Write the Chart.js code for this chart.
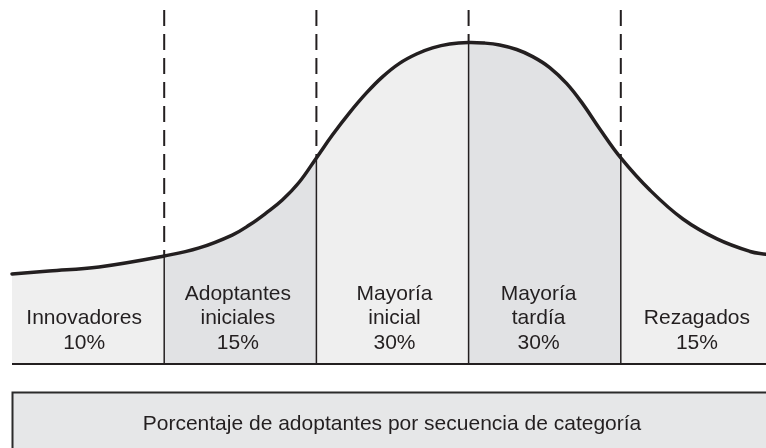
<!DOCTYPE html>
<html>
<head>
<meta charset="utf-8">
<script src="https://cdn.jsdelivr.net/npm/chart.js@4"></script>
<style>
  html, body { margin: 0; padding: 0; background: #ffffff; }
  #wrap { width: 766px; height: 448px; position: relative; }
</style>
</head>
<body>
<div id="wrap"><canvas id="c"></canvas></div>
<script>
// Curve (x in standard deviations from the mean, y = density as % of peak)
const curveX = [-3.0, -2.757, -2.428, -2.0, -1.77, -1.553, -1.441, -1.329, -1.224, -1.112, -1.0, -0.895, -0.783, -0.671, -0.566, -0.454, -0.342, -0.237, -0.125, 0, 0.105, 0.204, 0.316, 0.421, 0.533, 0.645, 0.75, 0.862, 1.0, 1.191, 1.408, 1.632, 1.849, 1.954];
const curveY = [28.0, 28.9, 30.2, 33.6, 36.1, 40.1, 43.2, 47.0, 51.0, 56.6, 64.1, 71.2, 78.1, 84.3, 89.3, 93.5, 96.4, 98.3, 99.5, 100, 99.8, 99.2, 97.8, 95.6, 92.2, 87.2, 80.9, 73.1, 64.1, 54.1, 45.1, 38.9, 35.0, 34.1];
const boundaries = [-2, -1, 0, 1];
const categories = [['Innovadores'], ['Adoptantes', 'iniciales'], ['Mayoría', 'inicial'], ['Mayoría', 'tardía'], ['Rezagados']];
const percents = ['10%', '15%', '30%', '30%', '15%'];
const labelX = [-2.526, -1.516, -0.487, 0.46, 1.5];
const footerText = 'Porcentaje de adoptantes por secuencia de categoría';
const xMin = -3.0, xMax = 1.954, yMax = 113.2, dashTop = 110.1;

const lightFill = '#efefef', darkFill = '#e1e2e4', ink = '#231f20';

const curvePts = curveX.map((x, i) => ({ x: x, y: curveY[i] }));
function regionIndex(x) { let k = 0; boundaries.forEach(b => { if (x >= b - 1e-9) k++; }); return k; }

const datasets = [];
// fill
datasets.push({
  data: curvePts, borderWidth: 0, pointRadius: 0, fill: 'origin', order: 5,
  tension: 0.4, backgroundColor: lightFill,
  segment: { backgroundColor: ctx => (regionIndex(ctx.p0.parsed.x) % 2 === 1 ? darkFill : lightFill) }
});
// vertical lines
boundaries.forEach(b => {
  const v = curveY[curveX.indexOf(b)];
  datasets.push({ data: [{ x: b, y: 0 }, { x: b, y: v }], borderColor: ink, borderWidth: 1.5, pointRadius: 0, fill: false, order: 3 });
  datasets.push({ data: [{ x: b, y: dashTop }, { x: b, y: v }], borderColor: ink, borderWidth: 2, borderDash: [16, 8], pointRadius: 0, fill: false, order: 3 });
});
// curve line
datasets.push({ data: curvePts, borderColor: ink, borderWidth: 3.5, pointRadius: 0, fill: false, order: 1, tension: 0.4, borderCapStyle: 'round' });
// baseline
datasets.push({ data: [{ x: xMin, y: 0 }, { x: xMax, y: 0 }], borderColor: ink, borderWidth: 2, pointRadius: 0, fill: false, order: 0 });

const annotate = {
  id: 'annotate',
  afterDraw(chart) {
    const ctx = chart.ctx, xs = chart.scales.x, area = chart.chartArea;
    ctx.save();
    ctx.fillStyle = ink;
    ctx.font = '21px "Liberation Sans", Arial, sans-serif';
    ctx.textAlign = 'center';
    ctx.textBaseline = 'alphabetic';
    const lastBase = 348.5, lh = 24.5;
    categories.forEach((lines, i) => {
      const all = lines.concat([percents[i]]);
      const px = xs.getPixelForValue(labelX[i]);
      all.forEach((t, j) => {
        ctx.fillText(t, px, lastBase - (all.length - 1 - j) * lh);
      });
    });
    // footer box
    const top = area.bottom + 28.5;
    ctx.fillStyle = '#e6e7e8';
    ctx.fillRect(12, top, 800, 100);
    ctx.strokeStyle = '#2b2b2b';
    ctx.lineWidth = 2;
    ctx.strokeRect(12.5, top, 800, 100);
    ctx.fillStyle = ink;
    ctx.fillText(footerText, 392, top + 37);
    ctx.restore();
  }
};

new Chart(document.getElementById('c'), {
  type: 'line',
  data: { datasets: datasets },
  options: {
    responsive: true, maintainAspectRatio: false, animation: false,
    layout: { padding: { left: 12, right: 0, top: 0, bottom: 84 } },
    plugins: { legend: { display: false }, tooltip: { enabled: false } },
    scales: {
      x: { type: 'linear', min: xMin, max: xMax, display: false },
      y: { type: 'linear', min: 0, max: yMax, display: false }
    },
    datasets: { line: { clip: false } }
  },
  plugins: [annotate]
});
</script>
</body>
</html>
